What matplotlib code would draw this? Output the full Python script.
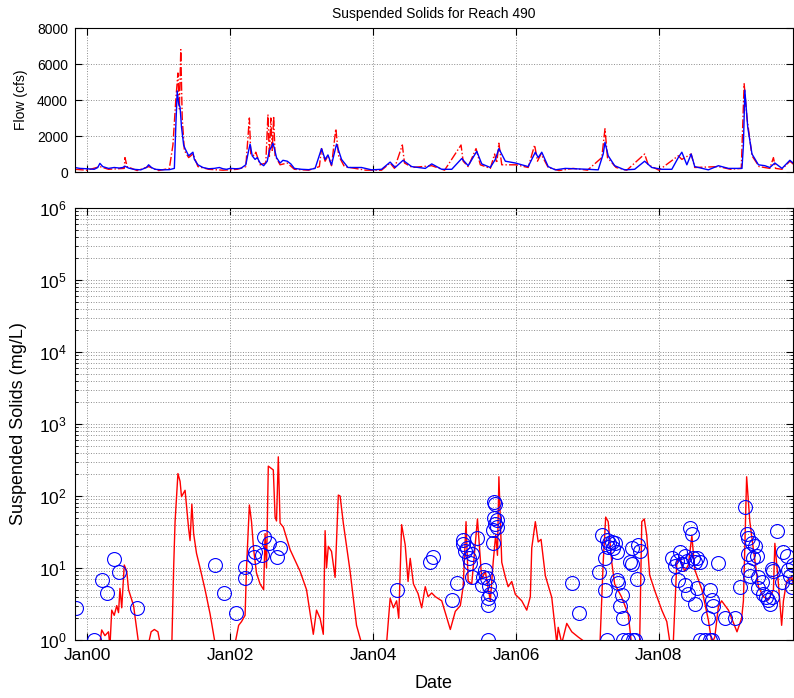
import numpy as np
import matplotlib
matplotlib.use("Agg")
import matplotlib.pyplot as plt
import matplotlib.dates as mdates
from matplotlib.ticker import LogLocator, NullFormatter, FixedLocator
from datetime import datetime, timedelta

plt.rcParams['font.family'] = ['Liberation Sans', 'DejaVu Sans']
plt.rcParams['mathtext.fontset'] = 'custom'
plt.rcParams['mathtext.rm'] = 'Liberation Sans'

# ---------------- data (decimal years, values) ----------------
flow_sim_t = [1999.83, 1999.9, 2000.0, 2000.1, 2000.15, 2000.18, 2000.22, 2000.3, 2000.38, 2000.45,
              2000.5, 2000.53, 2000.58, 2000.65, 2000.75, 2000.83, 2000.86, 2000.9, 2000.95, 2001.05,
              2001.15, 2001.22, 2001.24, 2001.26, 2001.28, 2001.30, 2001.32, 2001.35, 2001.37, 2001.42,
              2001.45, 2001.48, 2001.5, 2001.55, 2001.62, 2001.7, 2001.78, 2001.85, 2001.9, 2001.95,
              2002.0, 2002.08, 2002.15, 2002.22, 2002.26, 2002.28, 2002.31, 2002.35, 2002.38, 2002.42,
              2002.47, 2002.52, 2002.55, 2002.58, 2002.60, 2002.62, 2002.65, 2002.7, 2002.74, 2002.8,
              2002.85, 2002.9, 2003.0, 2003.1, 2003.19, 2003.28, 2003.33, 2003.37, 2003.42, 2003.49,
              2003.56, 2003.65, 2003.84, 2003.98, 2004.12, 2004.24, 2004.31, 2004.42, 2004.54, 2004.73,
              2004.82, 2004.96, 2005.10, 2005.24, 2005.33, 2005.45, 2005.52, 2005.64, 2005.71, 2005.76,
              2005.85, 2005.99, 2006.17, 2006.27, 2006.31, 2006.36, 2006.45, 2006.55, 2006.69, 2006.83,
              2007.01, 2007.15, 2007.22, 2007.245, 2007.29, 2007.38, 2007.52, 2007.66, 2007.80, 2007.90,
              2008.04, 2008.18, 2008.27, 2008.32, 2008.39, 2008.45, 2008.50, 2008.69, 2008.83, 2008.97,
              2009.16, 2009.18, 2009.20, 2009.24, 2009.30, 2009.39, 2009.48, 2009.55, 2009.62, 2009.72,
              2009.83, 2009.89]
flow_sim_v = [250, 200, 180, 150, 250, 480, 300, 200, 250, 220,
              250, 320, 220, 150, 120, 250, 400, 250, 150, 120,
              130, 200, 2500, 4500, 3800, 3600, 2500, 1500, 1300, 900,
              1000, 1100, 700, 400, 250, 180, 200, 250, 180, 150,
              200, 180, 200, 400, 1200, 1550, 900, 700, 800, 500,
              350, 600, 1200, 1400, 1600, 1300, 800, 500, 650, 600,
              450, 200, 150, 130, 200, 1300, 700, 950, 400, 1550,
              700, 250, 250, 120, 150, 550, 250, 650, 300, 200,
              450, 150, 150, 750, 350, 1150, 450, 250, 700, 1300,
              600, 500, 300, 1100, 800, 1100, 300, 120, 200, 180,
              150, 120, 1000, 1650, 900, 350, 120, 150, 600, 250,
              150, 150, 800, 1100, 400, 1000, 300, 120, 350, 200,
              200, 1500, 4550, 2500, 1000, 400, 350, 250, 500, 200,
              650, 450]

flow_obs_t = [1999.83, 2000.0, 2000.18, 2000.3, 2000.52, 2000.53, 2000.56, 2000.7, 2000.86, 2001.0,
              2001.15, 2001.2, 2001.24, 2001.27, 2001.29, 2001.31, 2001.33, 2001.36, 2001.42, 2001.48,
              2001.55, 2001.7, 2001.9, 2002.1, 2002.22, 2002.27, 2002.29, 2002.34, 2002.36, 2002.42,
              2002.5, 2002.53, 2002.55, 2002.57, 2002.59, 2002.61, 2002.63, 2002.7, 2002.8, 2002.9,
              2003.1, 2003.25, 2003.28, 2003.33, 2003.37, 2003.42, 2003.48, 2003.52, 2003.6, 2003.9,
              2004.12, 2004.24, 2004.3, 2004.41, 2004.44, 2004.55, 2004.82, 2005.0, 2005.23, 2005.26,
              2005.33, 2005.44, 2005.5, 2005.64, 2005.70, 2005.73, 2005.76, 2005.8, 2006.0, 2006.17,
              2006.26, 2006.3, 2006.35, 2006.45, 2006.6, 2006.8, 2007.0, 2007.2, 2007.245, 2007.28,
              2007.4, 2007.55, 2007.80, 2007.85, 2008.0, 2008.27, 2008.32, 2008.45, 2008.5, 2008.83,
              2009.0, 2009.15, 2009.19, 2009.23, 2009.3, 2009.4, 2009.55, 2009.60, 2009.63, 2009.72,
              2009.83, 2009.89]
flow_obs_v = [150, 100, 300, 150, 200, 800, 300, 80, 300, 80,
              200, 1500, 4000, 5500, 3500, 6800, 3000, 1200, 800, 1000,
              300, 150, 100, 150, 300, 3000, 1000, 900, 1100, 400,
              500, 3200, 800, 3000, 1200, 3100, 900, 400, 500, 150,
              100, 300, 1300, 600, 900, 350, 2400, 900, 300, 100,
              100, 500, 200, 1500, 500, 250, 350, 100, 1500, 600,
              300, 1300, 400, 200, 1000, 500, 1600, 400, 400, 250,
              1500, 600, 1000, 250, 80, 200, 100, 800, 2400, 800,
              250, 100, 1000, 400, 100, 900, 700, 1000, 250, 300,
              150, 200, 4900, 3000, 900, 300, 200, 800, 200, 150,
              600, 400]

ss_sim_t = [1999.83, 2000.17, 2000.18, 2000.205, 2000.25, 2000.30, 2000.32, 2000.345, 2000.38, 2000.415,
            2000.44, 2000.46, 2000.485, 2000.52, 2000.555, 2000.58, 2000.65, 2000.72, 2000.74, 2000.84,
            2000.86, 2000.895, 2000.94, 2000.99, 2001.02, 2001.05, 2001.17, 2001.185, 2001.21, 2001.23,
            2001.27, 2001.30, 2001.32, 2001.37, 2001.42, 2001.44, 2001.465, 2001.49, 2001.53, 2001.58,
            2001.65, 2001.72, 2001.79, 2001.82, 2002.05, 2002.07, 2002.12, 2002.16, 2002.21, 2002.23,
            2002.27, 2002.30, 2002.33, 2002.37, 2002.42, 2002.47, 2002.49, 2002.51, 2002.535, 2002.58,
            2002.605, 2002.63, 2002.65, 2002.675, 2002.70, 2002.745, 2002.84, 2002.98, 2003.07, 2003.165,
            2003.21, 2003.26, 2003.305, 2003.33, 2003.35, 2003.375, 2003.42, 2003.47, 2003.515, 2003.54,
            2003.585, 2003.68, 2003.77, 2003.84, 2003.87, 2004.17, 2004.19, 2004.24, 2004.285, 2004.33,
            2004.36, 2004.40, 2004.45, 2004.49, 2004.52, 2004.565, 2004.63, 2004.68, 2004.73, 2004.77,
            2004.82, 2004.87, 2004.96, 2005.08, 2005.15, 2005.22, 2005.26, 2005.30, 2005.33, 2005.38,
            2005.46, 2005.52, 2005.57, 2005.64, 2005.68, 2005.715, 2005.74, 2005.76, 2005.80, 2005.85,
            2005.89, 2005.94, 2005.99, 2006.08, 2006.15, 2006.20, 2006.22, 2006.27, 2006.31, 2006.35,
            2006.41, 2006.50, 2006.57, 2006.59, 2006.64, 2006.71, 2006.78, 2006.87, 2006.99, 2007.02,
            2007.16, 2007.175, 2007.22, 2007.255, 2007.29, 2007.34, 2007.38, 2007.475, 2007.57, 2007.615,
            2007.65, 2007.72, 2007.73, 2007.76, 2007.795, 2007.83, 2007.87, 2007.94, 2008.04, 2008.11,
            2008.155, 2008.20, 2008.25, 2008.29, 2008.36, 2008.41, 2008.46, 2008.50, 2008.60, 2008.69,
            2008.74, 2008.78, 2008.83, 2008.875, 2008.97, 2009.09, 2009.155, 2009.18, 2009.225, 2009.27,
            2009.32, 2009.39, 2009.46, 2009.53, 2009.60, 2009.62, 2009.67, 2009.715, 2009.74, 2009.785,
            2009.855, 2009.89]
ss_sim_v = [0.3, 0.3, 0.9, 1.38, 1.15, 1.3, 0.8, 2.6, 2.2, 3.0,
            2.4, 5.2, 2.8, 11, 9, 5, 3.0, 0.9, 0.3, 0.3,
            0.9, 1.3, 1.4, 1.3, 0.9, 0.3, 0.3, 0.9, 10, 44,
            205, 160, 98, 120, 35, 24, 77, 30, 16, 10,
            5, 2.3, 0.9, 0.3, 0.3, 0.9, 1.6, 1.8, 2.2, 10,
            75, 44, 18, 8.5, 6, 5, 30, 10, 260, 240,
            230, 51, 45, 350, 42, 37, 18, 9, 5, 1.2,
            2.6, 2.0, 1.2, 33, 10, 20, 17, 7.4, 103, 100,
            42, 9, 1.6, 0.9, 0.3, 0.3, 0.9, 3.8, 2.8, 3.5,
            2.0, 40, 21, 6.5, 13.6, 6, 4.4, 2.8, 5.5, 4,
            4.5, 4, 3.5, 1.4, 2.5, 3, 5.5, 44, 6.6, 6,
            48, 7, 9, 3.5, 12, 29, 15, 185, 12, 7.5,
            5.5, 6.5, 4.3, 3.5, 2.6, 4, 19, 44, 23, 25,
            7.8, 3.9, 0.9, 1.5, 0.9, 1.7, 1.3, 1.1, 0.9, 0.3,
            0.3, 0.9, 12, 51, 44, 12, 6, 4, 2.3, 0.9,
            0.3, 0.3, 0.9, 44, 48, 28, 8, 4.9, 2.6, 1.8,
            0.9, 0.9, 12, 14, 9, 11, 28, 9.5, 5, 1.9,
            0.9, 1.1, 2.9, 3.5, 2.6, 1.3, 2.0, 3.5, 185, 44,
            18, 5.5, 4, 3.6, 5, 22, 6, 1.6, 3.5, 6.5,
            7.5, 5.5]

ss_obs_t = [1999.846, 2000.10, 2000.205, 2000.275, 2000.378, 2000.45, 2000.695, 2001.79, 2001.91, 2002.08,
            2002.21, 2002.215, 2002.33, 2002.35, 2002.45, 2002.476, 2002.545, 2002.65, 2002.70, 2004.33,
            2004.80, 2004.845, 2005.10, 2005.18, 2005.26, 2005.26, 2005.285, 2005.31, 2005.335, 2005.36,
            2005.38, 2005.38, 2005.45, 2005.52, 2005.54, 2005.57, 2005.60, 2005.625, 2005.64, 2005.61,
            2005.61, 2005.61, 2005.69, 2005.71, 2005.695, 2005.73, 2005.71, 2005.74, 2005.675, 2005.68,
            2006.78, 2006.88, 2007.16, 2007.20, 2007.245, 2007.24, 2007.27, 2007.28, 2007.305, 2007.34,
            2007.29, 2007.36,
            2007.385, 2007.41, 2007.41, 2007.43, 2007.455, 2007.48, 2007.50, 2007.50, 2007.57, 2007.64,
            2007.66, 2007.59, 2007.62, 2007.62, 2007.69, 2007.71, 2007.73, 2008.18, 2008.22, 2008.25,
            2008.27, 2008.29, 2008.32, 2008.36, 2008.36, 2008.39, 2008.41, 2008.43, 2008.46, 2008.48,
            2008.50, 2008.50, 2008.525, 2008.525, 2008.57, 2008.57, 2008.64, 2008.69, 2008.71, 2008.71,
            2008.735, 2008.735, 2008.76, 2008.83, 2008.92, 2009.06, 2009.13, 2009.20, 2009.225, 2009.25,
            2009.25, 2009.25, 2009.27, 2009.30, 2009.32, 2009.34, 2009.365, 2009.39, 2009.39, 2009.435,
            2009.46, 2009.50, 2009.53, 2009.55, 2009.575, 2009.575, 2009.60, 2009.645, 2009.715, 2009.74,
            2009.785, 2009.81, 2009.83, 2009.855, 2009.87]
ss_obs_v = [2.75, 1.0, 6.8, 4.45, 13.3, 8.7, 2.8, 11, 4.45, 2.4,
            7.3, 10.4, 14.4, 16.5, 15, 27, 22, 14.4, 18.8, 4.9,
            12.2, 14.4, 3.6, 6.1, 24.5, 21.5, 17, 19, 13.6, 11.6,
            15.5, 7.6, 25.8, 5.8, 7.6, 9.4, 7.2, 5.6, 4.4, 3.8,
            3.1, 1.0, 83, 78, 49, 47, 41, 37, 34, 22,
            6.1, 2.4, 8.9, 28.7, 13.6, 4.9, 1.0, 24.5, 22, 23,
            19.6, 19,
            22, 16.8, 6.8, 6.2, 3.0, 4.2, 2.0, 1.0, 1.0, 1.0,
            1.0, 12.2, 18.8, 11.2, 7.0, 21, 17.5, 13.6, 10.5, 12.6,
            6.8, 16.8, 11.4, 14.7, 5.8, 12.5, 4.3, 35.6, 29.6, 13.6,
            12, 3.2, 13.6, 5.2, 12, 1.0, 1.0, 2.0, 5, 1.0,
            3.6, 1.0, 3.0, 11.6, 2.0, 2.0, 5.5, 71, 29.6, 25.7,
            15.5, 9.3, 7.8, 22, 13.6, 20, 14.7, 7.4, 5.2, 6.3,
            4.3, 3.9, 3.6, 3.2, 3.9, 9.8, 9.0, 32.6, 6.3, 16.8,
            14.7, 9.3, 7.8, 5.5, 11]

tick_years = [2000, 2002, 2004, 2006, 2008]
x_range = (1999.832, 2009.874)


def yr2date(y):
    out = []
    for v in np.atleast_1d(y):
        yi = int(np.floor(v))
        start = datetime(yi, 1, 1)
        ndays = (datetime(yi + 1, 1, 1) - start).days
        out.append(start + timedelta(days=(v - yi) * ndays))
    return mdates.date2num(out)


fig = plt.figure(figsize=(7.94, 6.98), dpi=100)
ax1 = fig.add_axes([75 / 794, 1 - 172 / 698, 718 / 794, 144 / 698])
ax2 = fig.add_axes([75 / 794, 1 - 640 / 698, 718 / 794, 432 / 698])

grid_kw = dict(color='0.55', linestyle=':', linewidth=0.7)

# ---- top panel ----
ax1.plot(yr2date(flow_obs_t), flow_obs_v, color='#ff0000', linestyle='-.', linewidth=1.0)
ax1.plot(yr2date(flow_sim_t), flow_sim_v, color='#0000ff', linestyle='-', linewidth=1.0)
ax1.set_ylim(0, 8000)
ax1.set_yticks([0, 2000, 4000, 6000, 8000])
ax1.set_title('Suspended Solids for Reach 490', fontsize=10, pad=7)
ax1.set_ylabel('Flow (cfs)', fontsize=10)
ax1.yaxis.set_label_coords(-0.066, 0.5)

# ---- bottom panel ----
ax2.plot(yr2date(ss_sim_t), ss_sim_v, color='#ff0000', linestyle='-', linewidth=1.0)
ax2.plot(yr2date(ss_obs_t), ss_obs_v, linestyle='none', marker='o', markersize=10,
         markerfacecolor='none', markeredgecolor='#0000ff', markeredgewidth=0.8)
ax2.set_yscale('log')
ax2.set_ylim(1, 1e6)
ax2.yaxis.set_major_locator(LogLocator(base=10, numticks=10))
ax2.yaxis.set_minor_locator(LogLocator(base=10, subs=np.arange(2, 10), numticks=20))
ax2.yaxis.set_minor_formatter(NullFormatter())
ax2.set_ylabel('Suspended Solids (mg/L)', fontsize=13)
ax2.yaxis.set_label_coords(-0.067, 0.5)
ax2.set_xlabel('Date', fontsize=13)
ax2.xaxis.set_label_coords(0.5, -0.082)
ax2.grid(True, which='major', axis='both', **grid_kw)
ax2.grid(True, which='minor', axis='y', **grid_kw)

ticks = mdates.date2num([datetime(y, 1, 1) for y in tick_years])
for ax in (ax1, ax2):
    ax.set_xlim(yr2date(x_range[0])[0], yr2date(x_range[1])[0])
    ax.xaxis.set_major_locator(FixedLocator(ticks))
    ax.xaxis.set_major_formatter(mdates.DateFormatter('%b%y'))
    ax.tick_params(which='both', direction='in', top=True, right=True)
    ax.tick_params(which='major', length=5, width=0.8)
    ax.tick_params(which='minor', length=2.5, width=0.6)
    for s in ax.spines.values():
        s.set_linewidth(0.8)

ax1.grid(True, which='major', axis='both', **grid_kw)
ax1.tick_params(axis='x', labelbottom=False)
ax1.tick_params(axis='y', labelsize=10, pad=5)
ax2.tick_params(axis='both', which='major', labelsize=12.5)
ax2.tick_params(axis='x', pad=6)
ax2.tick_params(axis='y', pad=6)

fig.savefig('out.png', dpi=100)
